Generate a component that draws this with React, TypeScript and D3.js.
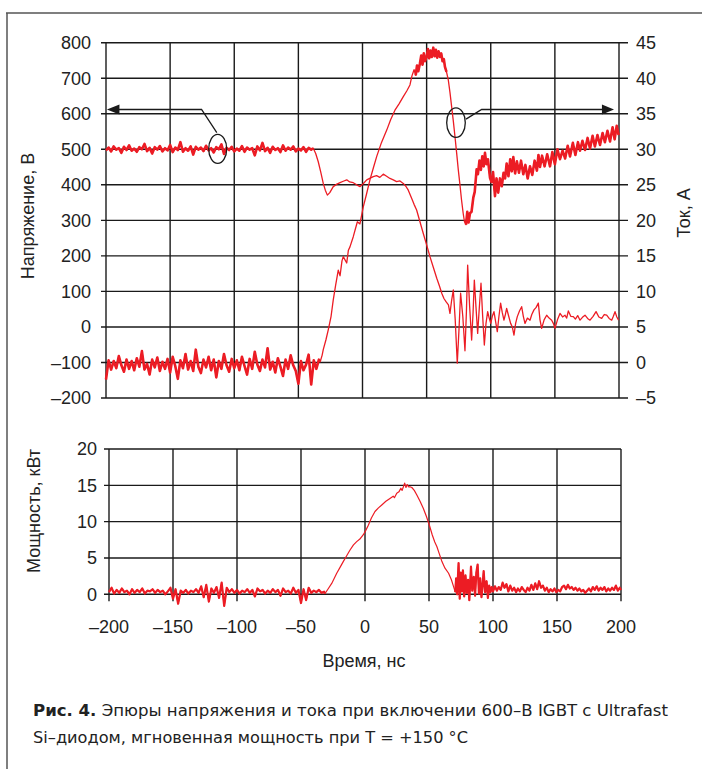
import React from 'react';
import * as d3 from 'd3';

// ---------- axis ticks ----------
const timeTicks = [-200, -150, -100, -50, 0, 50, 100, 150, 200];
const voltageTicks = [-200, -100, 0, 100, 200, 300, 400, 500, 600, 700, 800];
const currentTicks = [-5, 0, 5, 10, 15, 20, 25, 30, 35, 40, 45];
const powerTicks = [0, 5, 10, 15, 20];

// ---------- voltage, V  [time ns, value] ----------
const voltage: [number, number][] = [
  [-200, 497], [-198, 505], [-196, 494], [-194, 508], [-192, 499], [-190, 503], [-188, 490], [-186, 507],
  [-184, 498], [-182, 511], [-180, 496], [-178, 502], [-176, 493], [-174, 506], [-172, 500], [-170, 515],
  [-168, 495], [-166, 504], [-164, 488], [-162, 506], [-160, 499], [-158, 509], [-156, 494], [-154, 503],
  [-152, 497], [-150, 512], [-148, 492], [-146, 505], [-144, 498], [-142, 520], [-140, 493], [-138, 503],
  [-136, 496], [-134, 508], [-132, 485], [-130, 507], [-128, 499], [-126, 505], [-124, 495], [-122, 510],
  [-120, 497], [-118, 503], [-116, 491], [-114, 506], [-112, 500], [-110, 514], [-108, 487], [-106, 504],
  [-104, 498], [-102, 507], [-100, 494], [-98, 502], [-96, 496], [-94, 509], [-92, 493], [-90, 505],
  [-88, 499], [-86, 503], [-84, 483], [-82, 508], [-80, 497], [-78, 518], [-76, 495], [-74, 504],
  [-72, 490], [-70, 507], [-68, 498], [-66, 503], [-64, 492], [-62, 511], [-60, 496], [-58, 505],
  [-56, 499], [-54, 508], [-52, 494], [-50, 502], [-48, 497], [-46, 506], [-44, 493], [-42, 504],
  [-40, 499], [-38.4, 503], [-36.5, 488], [-34.5, 465], [-32.5, 435], [-30.6, 404], [-29, 385],
  [-27.4, 371], [-25.5, 378], [-22.8, 395], [-20, 402], [-17.5, 406], [-15, 410], [-12.3, 414],
  [-10, 408], [-7.2, 406], [-4.5, 400], [-1.9, 395], [0.5, 403], [3.3, 414], [6, 419], [8.4, 423],
  [11, 426], [13.5, 421], [16.2, 430], [18.8, 424], [21.4, 418], [24, 414], [26.6, 409], [29.2, 411],
  [31.8, 404], [33.8, 396], [35.7, 385], [38.3, 362], [40.2, 345], [42.2, 329], [44.8, 296], [47.4, 263],
  [50, 231], [52.6, 198], [55.2, 168], [57.9, 137], [60, 115], [61.8, 95], [63.5, 80], [65.1, 71],
  [67, 62], [68.2, 38], [69.5, 75], [70.8, 104], [72.3, 20], [73.9, -102], [75.2, -10], [76.5, 95],
  [78.2, 30], [79.9, -67], [81, 40], [82, 174], [83.5, 60], [85.1, -37], [86.2, 40], [87.2, 132],
  [88.5, 55], [89.8, -18], [91, 50], [92.4, 123], [93.7, 30], [95, -51], [96.3, 10], [97.6, 43],
  [98.8, 25], [100, 10], [101.2, 30], [102.5, 43], [103.8, 15], [105.1, -13], [106.4, 30], [107.7, 67],
  [109, 40], [110.3, 19], [111.4, 35], [112.4, 52], [114, 30], [115.5, 10], [116.8, 0], [118.1, -23],
  [119.4, 10], [120.7, 29], [122.4, 45], [124.1, 57], [125.4, 30], [126.7, 10], [128.6, 25], [130.6, 19],
  [132, 35], [133.7, 48], [135.4, 55], [137.1, 67], [138.4, 20], [139.7, -4], [141.6, 20], [143.6, 33],
  [145.5, 25], [147.5, 19], [148.8, 10], [150.1, -4], [152, 20], [154, 38], [156, 28], [157.9, 33],
  [159.2, 25], [160.5, 45], [162.4, 30], [164.4, 29], [166, 22], [167.8, 32], [169.6, 19], [171.5, 27],
  [173.5, 33], [175.5, 24], [177.4, 19], [179.8, 30], [182.1, 43], [184.3, 28], [186.5, 24], [188.5, 35],
  [190.4, 33], [192.3, 24], [194.3, 19], [195.6, 30], [196.9, 43], [198.3, 28], [199.7, 19],
];

// ---------- current, A  [time ns, value] ----------
const current: [number, number][] = [
  [-200, -2.4], [-198, 0.3], [-196, -1.0], [-194, 0.2], [-192, -0.8], [-190, 0.9], [-188, -0.4], [-186, -1.3],
  [-184, 0.4], [-182, -0.9], [-180, 0.2], [-178, -1.1], [-176, 0.6], [-174, -0.6], [-172, 1.6], [-170, -1.0],
  [-168, -0.2], [-166, -1.7], [-164, 0.4], [-162, -0.7], [-160, 0.7], [-158, -1.2], [-156, 0.1], [-154, -0.9],
  [-152, 0.5], [-150, -1.4], [-148, 0.8], [-146, -0.5], [-144, -2.3], [-142, 0.3], [-140, -0.8], [-138, 1.2],
  [-136, -1.0], [-134, 0.2], [-132, -1.2], [-130, 1.8], [-128, -0.6], [-126, -1.5], [-124, 0.4], [-122, -0.7],
  [-120, 0.8], [-118, -1.1], [-116, 0.4], [-114, -2.1], [-112, 0.2], [-110, -0.9], [-108, 1.2], [-106, -0.4],
  [-104, -1.3], [-102, 0.5], [-100, -0.8], [-98, 0.3], [-96, -1.1], [-94, 0.8], [-92, -0.5], [-90, -1.7],
  [-88, 0.5], [-86, -0.9], [-84, 1.5], [-82, -0.3], [-80, -1.2], [-78, 0.4], [-76, -0.7], [-74, 2.0],
  [-72, -1.0], [-70, 0.1], [-68, -1.4], [-66, 0.6], [-64, -0.6], [-62, -1.9], [-60, 0.4], [-58, -0.9],
  [-56, 1.0], [-54, -0.4], [-52, -1.2], [-50, -3.0], [-48, 0.2], [-46, -1.1], [-44, -0.3], [-42, 1.1],
  [-40, -3.1], [-38, 0.3], [-36, -0.9], [-34, 0.4], [-33, 0.1], [-31.5, 1.0], [-30.6, 1.8], [-28.5, 3.2],
  [-26.7, 4.6], [-24.5, 6.5], [-22.8, 8.8], [-21, 10.8], [-18.9, 13.0], [-17.5, 12.2], [-16, 14.3],
  [-15, 14.9], [-12.3, 14.0], [-11, 15.8], [-9.7, 16.3], [-7.2, 17.7], [-4, 19.8], [-2, 19.5], [0.6, 21.9],
  [3, 23.6], [5.8, 25.7], [8.5, 27.4], [11.1, 29], [14.5, 30.8], [18.9, 32.7], [22, 34.2], [25.3, 35.5],
  [28.5, 36.4], [31.8, 37.4], [34.5, 38.2], [37, 39.05], [38.5, 40.3], [40.2, 41.2], [41.5, 40.4],
  [42.5, 41.8], [43.5, 41.0], [44.8, 42.1], [45.8, 43.2], [46.8, 41.9], [47.8, 43.5], [48.8, 42.4],
  [50, 43.0], [51, 44.1], [52, 42.8], [53, 43.9], [54, 43.0], [55.2, 44.3], [56.2, 43.1], [57.2, 44.0],
  [58.2, 42.9], [59.3, 43.8], [60.4, 43.0], [61.4, 43.5], [62.4, 42.4], [63.4, 42.7], [64.3, 41.6],
  [65.5, 40.9], [66.9, 39.75], [68.2, 38.0], [69.5, 36.0], [70.8, 34.0], [72.1, 31.8], [73.4, 29.5],
  [74.7, 27.1], [76, 25.0], [77.2, 22.9], [78.5, 21.0], [79.5, 19.8], [80.7, 19.4], [81.7, 21.2],
  [82.7, 19.7], [83.8, 21.0], [85, 21.2], [86.4, 23.2], [87.5, 24.0], [89, 27.2], [90, 26.5], [91.2, 28.4],
  [92.3, 27.1], [93.4, 29.0], [94.5, 27.6], [95.5, 29.5], [96.6, 27.9], [97.8, 28.6], [99.4, 26.0],
  [100.6, 25.4], [101.8, 26.8], [103.3, 23.4], [104.5, 25.9], [105.8, 23.9], [107.2, 25.9], [108.6, 24.8],
  [110, 26.7], [111.2, 25.9], [112.4, 28.0], [113.8, 26.2], [115.2, 28.6], [116.4, 26.9], [117.6, 28.9],
  [119, 26.6], [120.4, 28.3], [122, 26.7], [123.6, 28.4], [125.4, 26.5], [127, 27.8], [128.8, 25.9],
  [130.6, 27.6], [132.4, 26.4], [134.2, 28.4], [136, 27.0], [137.2, 29.2], [138.4, 27.5], [140, 29.1],
  [142, 27.6], [144, 29.3], [146.2, 27.6], [148, 29.6], [150, 27.9], [152, 30.0], [154, 28.6], [156, 29.8],
  [158, 28.7], [160, 30.5], [161.8, 29.0], [164, 30.9], [166, 29.2], [168, 31.0], [169.6, 29.8],
  [171.5, 31.2], [173.5, 29.9], [175.5, 31.6], [177.4, 30.1], [179.4, 31.9], [181.2, 30.4], [183.2, 32.0],
  [185.2, 30.6], [187.2, 32.3], [189, 31.0], [191, 32.6], [193, 31.1], [195, 33.1], [196.6, 31.4],
  [198.2, 33.3], [199.7, 32.0],
];

// ---------- power, kW  [time ns, value] ----------
const power: [number, number][] = [
  [-200, 0.3], [-198, 0.9], [-196, 0.1], [-194, 0.6], [-192, 0.2], [-190, 0.8], [-188, 0.3], [-186, 0.5],
  [-184, 0.0], [-182, 0.7], [-180, 0.2], [-178, 0.6], [-176, 0.3], [-174, 0.8], [-172, 0.1], [-170, 0.5],
  [-168, 0.4], [-166, 0.7], [-164, 0.2], [-162, 0.6], [-160, 0.3], [-158, 0.5], [-156, 0.0], [-154, 0.4],
  [-152, 0.9], [-150, -0.6], [-148, 0.7], [-146, -1.3], [-144, 0.5], [-142, 0.2], [-140, 0.6], [-138, 0.1],
  [-136, 0.5], [-134, 0.3], [-132, 0.7], [-130, 0.2], [-128, 1.1], [-126, -0.4], [-124, 1.3], [-122, -1.0],
  [-120, 0.8], [-118, 0.2], [-116, 1.0], [-114, -0.5], [-112, 1.6], [-110, -1.6], [-108, 0.9], [-106, 0.3],
  [-104, 0.7], [-102, 0.2], [-100, 0.6], [-98, 0.1], [-96, 0.5], [-94, 0.3], [-92, 0.7], [-90, 0.2],
  [-88, 0.6], [-86, -0.3], [-84, 0.8], [-82, 0.4], [-80, 0.6], [-78, 0.1], [-76, 0.5], [-74, 0.2],
  [-72, 0.7], [-70, 0.3], [-68, 0.6], [-66, -0.2], [-64, 0.8], [-62, 0.3], [-60, 0.5], [-58, 0.1],
  [-56, 0.9], [-54, 0.2], [-52, 0.6], [-50, -1.2], [-48, 0.7], [-46, -0.8], [-44, 0.9], [-42, 0.2],
  [-40, 0.5], [-38, 0.3], [-36, 0.6], [-34, 0.2], [-32, 0.35], [-31.3, 0.1], [-29, 0.7], [-26, 1.5],
  [-24, 2.2], [-22.1, 2.9], [-19.5, 3.7], [-17, 4.5], [-14.3, 5.3], [-11.7, 6.1], [-9, 6.8], [-6.5, 7.25],
  [-4, 7.6], [-1.3, 8.2], [0.6, 8.8], [2.6, 9.5], [5, 10.5], [7.8, 11.4], [10.5, 11.9], [13.1, 12.3],
  [16.3, 12.8], [19.5, 13.2], [22, 13.5], [23, 13.3], [24.8, 13.9], [26.5, 14.1], [28, 14.6], [29, 14.3],
  [30, 14.8], [31, 15.3], [32, 14.7], [33, 15.1], [34, 14.8], [35.2, 14.8], [36.6, 14.7], [38.5, 14.3],
  [40.4, 13.7], [43, 12.8], [45.6, 11.8], [48, 10.7], [50.3, 9.5], [52.5, 8.2], [54.5, 7.2], [56.2, 6.55],
  [58, 5.6], [60.1, 4.5], [62.5, 3.6], [65.3, 2.9], [67.5, 2.0], [69.2, 1.05], [70.5, 0.3], [71.2, 2.2],
  [72, 0.0], [73.1, 4.3], [74, -0.6], [74.8, 3.0], [75.7, 0.4], [76.5, 3.3], [77.5, -0.3], [78.5, 2.6],
  [79.5, 0.2], [80.5, 2.0], [81.5, -0.8], [82.8, 3.8], [83.8, 0.5], [85, 2.4], [86, -0.2], [87, 3.0],
  [88, 4.1], [89, 0.1], [90, 2.2], [91, -0.4], [92, 1.5], [92.7, 3.2], [93.8, 0.3], [95, 1.8], [96, -0.5],
  [97, 1.2], [98, 0.3], [99, 1.0], [100, 0.4], [101.5, 1.1], [103, 0.5], [104.5, 1.0], [106, 0.6],
  [107.5, 1.6], [109, 0.9], [110.5, 1.4], [112, 0.4], [113.5, 1.2], [115, 0.5], [116.5, 0.9], [118, 0.3],
  [119.5, 0.8], [121, 0.4], [122.5, 1.0], [124, 0.6], [125.5, 0.3], [127, 0.9], [128.5, 0.5], [130, 1.3],
  [131.5, 0.6], [133, 1.5], [134.5, 0.7], [136, 1.8], [137.5, 0.9], [139, 1.2], [140.5, 0.5], [142, 0.9],
  [143.5, 0.3], [145, 0.7], [146.5, 0.4], [148, 0.8], [149.5, 0.3], [151, 0.6], [152.5, 0.4], [154, 1.0],
  [155.5, 1.2], [157, 0.7], [158.5, 1.3], [160, 0.8], [161.5, 1.0], [163, 0.6], [164.5, 0.9], [166, 0.5],
  [167.5, 0.8], [169, 0.4], [170.5, 0.6], [172, 0.2], [173.5, 0.5], [175, 0.8], [176.5, 0.4], [178, 1.0],
  [179.5, 0.6], [181, 1.1], [182.5, 0.5], [184, 0.9], [185.5, 0.6], [187, 1.0], [188.5, 0.4], [190, 0.8],
  [191.5, 0.5], [193, 0.9], [194.5, 0.6], [196, 1.2], [197.5, 0.5], [199, 0.9], [200, 0.6],
];

// time spans where the trace is a dense noisy band (drawn thicker)
const voltageNoisy: [number, number][] = [[-200, -37]];
const currentNoisy: [number, number][] = [[-200, -33], [41, 66], [80, 200]];
const powerNoisy: [number, number][] = [[-200, -31], [70, 200]];

const fmt = (v: number) => (v < 0 ? '\u2013' + Math.abs(v) : String(v));

const RED = '#ec1c24';
const INK = '#1a1a1a';
const FONT = "'Liberation Sans', Arial, Helvetica, sans-serif";
const FS = 18;

export default function App() {
  // top panel scales
  const xT = d3.scaleLinear().domain([-200, 200]).range([106, 619]);
  const yV = d3.scaleLinear().domain([-200, 800]).range([398, 42.7]);
  const yI = d3.scaleLinear().domain([-5, 45]).range([398, 42.7]);
  // bottom panel scales
  const xB = d3.scaleLinear().domain([-200, 200]).range([109, 621]);
  const yP = d3.scaleLinear().domain([0, 20]).range([594.3, 449]);

  const vLine = d3.line<[number, number]>().x(d => xT(d[0])).y(d => yV(d[1]));
  const iLine = d3.line<[number, number]>().x(d => xT(d[0])).y(d => yI(d[1]));
  const pLine = d3.line<[number, number]>().x(d => xB(d[0])).y(d => yP(d[1]));

  const pick = (s: [number, number][], r: [number, number]) => s.filter(d => d[0] >= r[0] && d[0] <= r[1]);

  // annotation geometry (data units)
  const lEll = { t: -112.9, v: 501 };
  const rEll = { t: 72.9, v: 575 };
  const arrowV = 612;

  const txt = { fontSize: FS, fill: '#222' } as const;

  return (
    <svg width={702} height={769} style={{ position: 'absolute', left: 0, top: 0, background: '#fff', fontFamily: FONT }}>
      <rect x={0} y={0} width={702} height={769} fill="#fff" />
      {/* frame */}
      <line x1={6} y1={13} x2={702} y2={13} stroke="#555" strokeWidth={1.5} />
      <line x1={7} y1={13} x2={7} y2={769} stroke="#555" strokeWidth={1.5} />

      {/* ---------- top panel grid ---------- */}
      {voltageTicks.map(v => (
        <line key={'hv' + v} x1={xT(-200) - 5} x2={xT(200) + 9} y1={yV(v)} y2={yV(v)} stroke={INK} strokeWidth={1.4} />
      ))}
      {timeTicks.map(t => (
        <line key={'vt' + t} x1={xT(t)} x2={xT(t)} y1={yV(800)} y2={yV(-200)} stroke={INK} strokeWidth={1.4} />
      ))}
      {voltageTicks.map(v => (
        <text key={'lv' + v} x={91} y={yV(v)} dy="0.36em" textAnchor="end" {...txt}>{fmt(v)}</text>
      ))}
      {currentTicks.map(c => (
        <text key={'lc' + c} x={636} y={yI(c)} dy="0.36em" textAnchor="start" {...txt}>{fmt(c)}</text>
      ))}
      <text transform={`translate(34,216) rotate(-90)`} textAnchor="middle" {...txt}>Напряжение, В</text>
      <text transform={`translate(690,213) rotate(-90)`} textAnchor="middle" {...txt}>Ток, А</text>

      {/* curves */}
      <path d={vLine(voltage) || ''} fill="none" stroke={RED} strokeWidth={1.3} strokeLinejoin="round" />
      <path d={iLine(current) || ''} fill="none" stroke={RED} strokeWidth={1.3} strokeLinejoin="round" />
      {voltageNoisy.map((r, i) => (
        <path key={'nv' + i} d={vLine(pick(voltage, r)) || ''} fill="none" stroke={RED} strokeWidth={2.6} strokeLinejoin="round" />
      ))}
      {currentNoisy.map((r, i) => (
        <path key={'ni' + i} d={iLine(pick(current, r)) || ''} fill="none" stroke={RED} strokeWidth={2.6} strokeLinejoin="round" />
      ))}

      {/* annotations */}
      <ellipse cx={xT(lEll.t)} cy={yV(lEll.v)} rx={9} ry={14.5} fill="none" stroke={INK} strokeWidth={1.3} />
      <polyline points={`${xT(-113.6)},${yV(547)} ${xT(-125.5)},${yV(arrowV)} ${xT(-190)},${yV(arrowV)}`}
        fill="none" stroke={INK} strokeWidth={1.3} />
      <polygon points={`${xT(-199.3)},${yV(arrowV)} ${xT(-189.5)},${yV(arrowV) - 5} ${xT(-189.5)},${yV(arrowV) + 5}`} fill={INK} />
      <ellipse cx={xT(rEll.t)} cy={yV(rEll.v)} rx={9.3} ry={14.8} fill="none" stroke={INK} strokeWidth={1.3} />
      <polyline points={`${xT(80.7)},${yV(585)} ${xT(92.9)},${yV(arrowV)} ${xT(188)},${yV(arrowV)}`}
        fill="none" stroke={INK} strokeWidth={1.3} />
      <polygon points={`${xT(196.1)},${yV(arrowV)} ${xT(186.7)},${yV(arrowV) - 5} ${xT(186.7)},${yV(arrowV) + 5}`} fill={INK} />

      {/* ---------- bottom panel ---------- */}
      {powerTicks.map(p => (
        <line key={'hp' + p} x1={xB(-200) - 5} x2={xB(200)} y1={yP(p)} y2={yP(p)} stroke={INK} strokeWidth={1.4} />
      ))}
      {timeTicks.map(t => (
        <line key={'vb' + t} x1={xB(t)} x2={xB(t)} y1={yP(20)} y2={yP(0) + 7} stroke={INK} strokeWidth={1.4} />
      ))}
      {powerTicks.map(p => (
        <text key={'lp' + p} x={97} y={yP(p)} dy="0.36em" textAnchor="end" {...txt}>{p}</text>
      ))}
      {timeTicks.map(t => (
        <text key={'lt' + t} x={xB(t)} y={633} textAnchor="middle" {...txt}>{fmt(t)}</text>
      ))}
      <text transform={`translate(40,511) rotate(-90)`} textAnchor="middle" {...txt}>Мощность, кВт</text>
      <text x={364} y={667} textAnchor="middle" {...txt}>Время, нс</text>
      <path d={pLine(power) || ''} fill="none" stroke={RED} strokeWidth={1.2} strokeLinejoin="round" />
      {powerNoisy.map((r, i) => (
        <path key={'np' + i} d={pLine(pick(power, r)) || ''} fill="none" stroke={RED} strokeWidth={2.2} strokeLinejoin="round" />
      ))}

      {/* ---------- caption ---------- */}
      <text x={33} y={716} fontSize={15.5} fill="#222" textLength={635} lengthAdjust="spacingAndGlyphs"
        style={{ fontFamily: "'Liberation Sans Narrow', 'DejaVu Sans Condensed', Roboto, sans-serif" }}>
        <tspan fontWeight="bold">Рис. 4.</tspan> Эпюры напряжения и тока при включении 600–В IGBT с Ultrafast
      </text>
      <text x={33} y={743} fontSize={15.5} fill="#222" textLength={435} lengthAdjust="spacingAndGlyphs"
        style={{ fontFamily: "'Liberation Sans Narrow', 'DejaVu Sans Condensed', Roboto, sans-serif" }}>
        Si–диодом, мгновенная мощность при T = +150 °C
      </text>
    </svg>
  );
}
